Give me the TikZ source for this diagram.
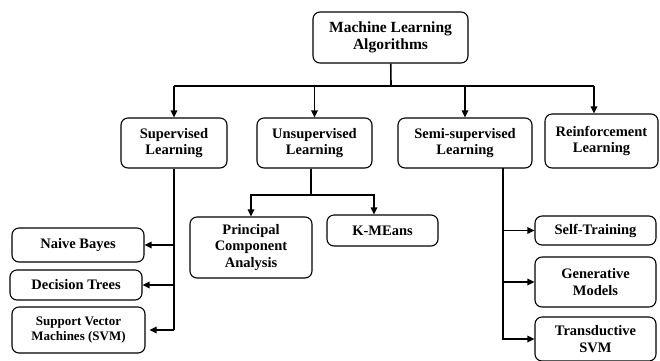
\documentclass[tikz,border=0pt]{standalone}
\usepackage{fontspec}
\setmainfont{Liberation Serif}
\usetikzlibrary{arrows.meta}
\tikzset{
  box/.style={draw, rounded corners=7pt, line width=1.1pt, align=center, inner sep=0pt,
    font=\fontsize{14.5}{16.5}\selectfont\bfseries},
  link/.style={line width=1.6pt},
  arr/.style={link, -{Triangle[length=7pt,width=6.5pt]}},
}
\begin{document}
\begin{tikzpicture}[x=1pt,y=-1pt]
    \useasboundingbox (0,0) rectangle (660,360);
    \clip (0,0) rectangle (660,360);
    % root
    \node[box, minimum width=155pt, minimum height=51pt, font=\fontsize{15.5}{16.5}\selectfont\bfseries] (mla) at (390.5,37.5) {Machine Learning\\Algorithms};
    % first level
    \node[box, minimum width=106pt, minimum height=50pt] (sup) at (174,143) {Supervised\\Learning};
    \node[box, minimum width=115pt, minimum height=50pt] (unsup) at (314.5,143) {Unsupervised\\Learning};
    \node[box, minimum width=134pt, minimum height=50pt] (semi) at (465,143) {Semi-supervised\\Learning};
    \node[box, minimum width=113pt, minimum height=54pt] (reinf) at (601.5,141) {Reinforcement\\Learning};
    % leaves
    \node[box, minimum width=132pt, minimum height=34pt] (nb) at (78,245) {Naive Bayes};
    \node[box, minimum width=132pt, minimum height=30pt] (dt) at (76,285) {Decision Trees};
    \node[box, minimum width=133pt, minimum height=46pt, font=\fontsize{13}{15.5}\selectfont\bfseries] (svm) at (78.5,330) {Support Vector\\Machines (SVM)};
    \node[box, minimum width=122pt, minimum height=61pt] (pca) at (251,247.5) {Principal\\Component\\Analysis};
    \node[box, minimum width=111pt, minimum height=31pt] (km) at (382.5,230.5) {K-MEans};
    \node[box, minimum width=121pt, minimum height=29pt] (st) at (595.5,230.5) {Self-Training};
    \node[box, minimum width=121pt, minimum height=50pt] (gm) at (595.5,282) {Generative\\Models};
    \node[box, minimum width=121pt, minimum height=44pt] (ts) at (595.5,339) {Transductive\\SVM};
    % bus
    \coordinate (bus) at (391,86);
    \coordinate (rtop) at (594,86);
    \draw[link] (mla) -- (bus);
    \draw[line width=2.2pt] (sup.north |- bus) -- (bus);
    \draw[line width=1.3pt] (bus) -- (rtop);
    \draw[arr] (sup.north |- bus) -- (sup.north);
    \draw[arr] (unsup.north |- bus) -- (unsup.north);
    \draw[arr] (semi.north |- bus) -- (semi.north);
    \draw[arr] (rtop) -- (rtop |- reinf.north);
    % supervised
    \draw[link] (sup.south) -- (sup.south |- svm.east);
    \draw[arr] (sup.south |- nb.east) -- (nb.east);
    \draw[arr] (sup.south |- dt.east) -- (dt.east);
    \draw[arr, shorten >=4pt] (sup.south |- svm.east) -- (svm.east);
    % unsupervised
    \coordinate (ujoin) at (311,195);
    \draw[link] (ujoin |- unsup.south) -- (ujoin);
    \draw[arr] (ujoin) -| (pca.north);
    \draw[arr] (ujoin) -| ([xshift=-8.5pt]km.north);
    % semi-supervised
    \coordinate (stop) at (503,168);
    \draw[arr] (stop) |- (ts.west);
    \draw[arr] (stop |- st.west) -- (st.west);
    \draw[arr] (stop |- gm.west) -- (gm.west);
\end{tikzpicture}
\end{document}
